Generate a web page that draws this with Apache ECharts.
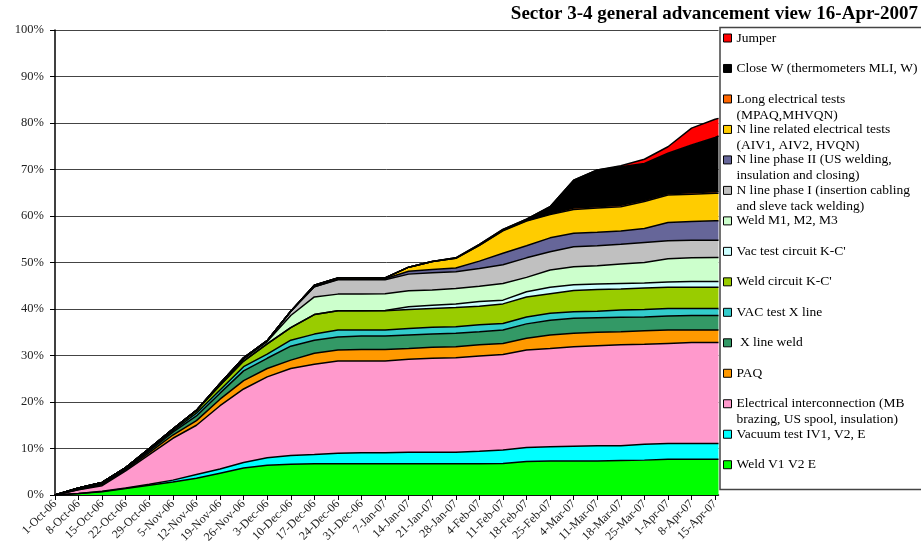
<!DOCTYPE html>
<html><head><meta charset="utf-8">
<script src="https://cdn.jsdelivr.net/npm/echarts@6/dist/echarts.min.js"></script>
<style>html,body{margin:0;padding:0;background:#fff}#c{width:921px;height:558px}</style>
</head><body><div id="c"></div>
<script>
// ---- data (percent of sector work done) ----
// data points: weekly from 1-Oct-06 (day 0) to 15-Apr-07, plus 16-Apr-07
const pointDays = [0,7,14,21,28,35,42,49,56,63,70,77,84,91,98,105,112,119,126,133,140,147,154,161,168,175,182,189,196,197];
const axisDayCount = 198; // 1-Oct-06 .. 16-Apr-07

// series, bottom of stack first
const weldV1V2E  = [0,0.3,0.7,1.4,2.1,2.8,3.6,4.7,5.8,6.4,6.6,6.7,6.7,6.7,6.7,6.7,6.7,6.7,6.7,6.8,7.2,7.3,7.3,7.3,7.4,7.5,7.7,7.7,7.7,7.7];
const vacuumTest = [0,0,0.1,0.1,0.2,0.4,0.8,0.9,1.2,1.6,1.9,2.0,2.3,2.4,2.4,2.5,2.5,2.5,2.7,2.9,3.0,3.1,3.2,3.3,3.2,3.4,3.4,3.4,3.4,3.4];
const elecInter  = [0,0.8,1.2,3.7,6.4,9.0,10.6,13.6,15.8,17.4,18.7,19.4,19.8,19.7,19.7,20.0,20.2,20.3,20.5,20.5,21.0,21.1,21.4,21.5,21.7,21.5,21.5,21.7,21.7,21.7];
const paq        = [0,0.1,0.2,0.2,0.4,0.7,1.0,1.4,1.8,1.8,1.8,2.4,2.4,2.5,2.5,2.3,2.4,2.4,2.4,2.4,2.5,2.9,2.9,2.9,2.8,2.9,2.9,2.7,2.7,2.7];
const xLineWeld  = [0,0.1,0.2,0.2,0.4,0.6,1.0,1.3,2.1,2.2,3.0,2.8,2.8,2.9,2.9,2.9,2.8,2.9,2.8,2.9,3.1,3.2,3.2,3.1,3.1,3.0,3.0,3.1,3.1,3.1];
const xLineVac   = [0,0.1,0.1,0.1,0.2,0.3,0.6,0.7,0.9,0.9,1.3,1.3,1.5,1.3,1.3,1.4,1.5,1.4,1.5,1.4,1.5,1.5,1.4,1.4,1.6,1.6,1.6,1.5,1.5,1.5];
const kcWeld     = [0,0.1,0.2,0.2,0.3,0.4,0.6,1.0,1.2,2.2,2.7,4.2,4.1,4.1,4.1,4.1,4.0,4.1,4.0,4.2,4.3,4.2,4.6,4.7,4.5,4.6,4.6,4.6,4.6,4.6];
const kcVac      = [0,0,0,0,0,0,0,0,0,0,0,0,0,0,0.1,0.6,0.7,0.8,1.0,0.8,1.1,1.4,1.2,1.2,1.2,1.1,1.1,1.2,1.2,1.2];
const weldM      = [0,0,0,0,0,0,0,0.2,0.4,0.5,2.6,3.8,3.6,3.6,3.6,3.4,3.3,3.3,3.3,3.6,3.1,3.7,3.9,3.9,4.2,4.4,5.0,5.1,5.2,5.2];
const nPhase1    = [0,0,0,0,0,0,0,0.2,0.3,0.2,0.9,2.2,3.1,3.1,3.0,3.6,3.7,3.6,3.8,4.0,4.2,3.9,4.3,4.3,4.2,4.3,3.9,3.8,3.7,3.7];
const nPhase2    = [0,0,0,0,0,0,0,0,0,0,0,0,0.1,0.1,0.2,0.6,0.7,0.8,1.6,2.5,2.6,3.0,2.9,2.9,2.9,3.0,3.9,4.0,4.2,4.2];
const nElecTests = [0,0,0,0,0,0,0,0,0,0,0,0.3,0.3,0.3,0.2,0.9,1.7,2.1,3.4,4.8,5.3,5.0,5.1,5.2,5.2,5.8,5.9,5.9,5.9,5.9];
const longElec   = [0,0,0,0,0,0,0,0,0,0,0,0,0,0,0,0,0,0,0,0.1,0.1,0.2,0.3,0.3,0.3,0.3,0.3,0.3,0.3,0.3];
const closeW     = [0,0,0,0,0,0,0,0,0,0,0,0,0,0,0,0,0,0.1,0.2,0.2,0.3,1.5,6.0,7.9,8.3,7.9,8.7,10.3,11.7,12.0];
const jumper     = [0,0,0,0,0,0,0,0,0,0,0,0,0,0,0,0,0,0,0,0,0,0,0,0,0.2,0.9,1.4,3.6,3.9,3.8];

const seriesNames = [
  'Weld V1 V2 E',
  'Vacuum test IV1, V2, E',
  'Electrical interconnection (MB\nbrazing, US spool, insulation)',
  'PAQ',
  ' X line weld',
  'VAC test X line',
  "Weld circuit K-C'",
  "Vac test circuit K-C'",
  'Weld M1, M2, M3',
  'N line phase I (insertion cabling\nand sleve tack welding)',
  'N line phase II (US welding,\ninsulation and closing)',
  'N line related electrical tests\n(AIV1, AIV2, HVQN)',
  'Long electrical tests\n(MPAQ,MHVQN)',
  'Close W (thermometers MLI, W)',
  'Jumper'
];
const seriesValues = [weldV1V2E, vacuumTest, elecInter, paq, xLineWeld, xLineVac, kcWeld, kcVac, weldM, nPhase1, nPhase2, nElecTests, longElec, closeW, jumper];
const seriesColors = ['#00FF00','#00FFFF','#FF99CC','#FF9900','#339966','#33CCCC','#99CC00','#CCFFFF','#CCFFCC','#C0C0C0','#666699','#FFCC00','#FF6600','#000000','#FF0000'];
const yTicks = [0,10,20,30,40,50,60,70,80,90,100];

// ---- build ----
const FONT = 'Liberation Serif';
const MON = ['Jan','Feb','Mar','Apr','May','Jun','Jul','Aug','Sep','Oct','Nov','Dec'];
const dayLabels = [];
for (let d = 0; d < axisDayCount; d++) {
  const dt = new Date(2006, 9, 1 + d);
  dayLabels.push(dt.getDate() + '-' + MON[dt.getMonth()] + '-' + String(dt.getFullYear()).slice(2));
}

const series = seriesNames.map((name, i) => ({
  name: name,
  type: 'line',
  stack: 'total',
  showSymbol: false,
  symbol: 'none',
  color: seriesColors[i],
  itemStyle: { color: seriesColors[i] },
  lineStyle: { color: '#000', width: 1.5 },
  areaStyle: { color: seriesColors[i], opacity: 1 },
  emphasis: { disabled: true },
  data: pointDays.map((d, k) => [d, seriesValues[i][k]])
}));

// square at the top of a taller item box so that it sits beside the first text line
const TALL_ICON = 'path://M0,0L8,0L8,8L0,8Z M0,24L0,24';
const legends = seriesNames.slice().reverse().map((name, i) => {
  const twoLine = name.indexOf('\n') >= 0;
  const c = 38 + 30.48 * i;
  return {
    orient: 'vertical', left: 723, top: c - 8, padding: 0,
    itemWidth: 8, itemHeight: twoLine ? 24 : 8, selectedMode: false,
    icon: twoLine ? TALL_ICON : 'rect',
    itemStyle: { borderColor: '#000', borderWidth: 1 },
    data: [name],
    textStyle: { fontFamily: FONT, fontSize: 13.5, lineHeight: 16, color: '#000' }
  };
});

const chart = echarts.init(document.getElementById('c'), null, { renderer: 'canvas' });
chart.setOption({
  animation: false,
  backgroundColor: '#fff',
  title: {
    text: 'Sector 3-4 general advancement view 16-Apr-2007',
    right: 3, top: 5, padding: 0,
    textStyle: { fontFamily: FONT, fontWeight: 'bold', fontSize: 19, color: '#000' }
  },
  legend: legends,
  graphic: [{
    type: 'rect', z: 0, silent: true,
    shape: { x: 720, y: 27.5, width: 240, height: 462 },
    style: { fill: 'none', stroke: '#444', lineWidth: 1.5 }
  }],
  grid: { left: 55, right: 202.5, top: 30, bottom: 63, containLabel: false, outerBoundsMode: 'none' },
  xAxis: {
    type: 'category',
    data: dayLabels,
    boundaryGap: false,
    axisLine: { lineStyle: { color: '#000', width: 1.5 } },
    axisTick: { length: 5, interval: (idx) => idx % 7 === 0, lineStyle: { color: '#000' } },
    axisLabel: { interval: (idx) => idx % 7 === 0, rotate: 45, margin: 7,
      fontFamily: FONT, fontSize: 12, color: '#222' },
    splitLine: { show: false }
  },
  yAxis: {
    type: 'value', min: 0, max: 100, interval: 10,
    axisLine: { show: true, lineStyle: { color: '#000', width: 1.5 } },
    axisTick: { show: true, length: 5, lineStyle: { color: '#000' } },
    axisLabel: { formatter: (v) => yTicks.indexOf(v) >= 0 ? v + '%' : '', margin: 11,
      fontFamily: FONT, fontSize: 12.5, color: '#222' },
    splitLine: { show: true, lineStyle: { color: '#444', width: 1 } }
  },
  series: series
});
</script></body></html>
